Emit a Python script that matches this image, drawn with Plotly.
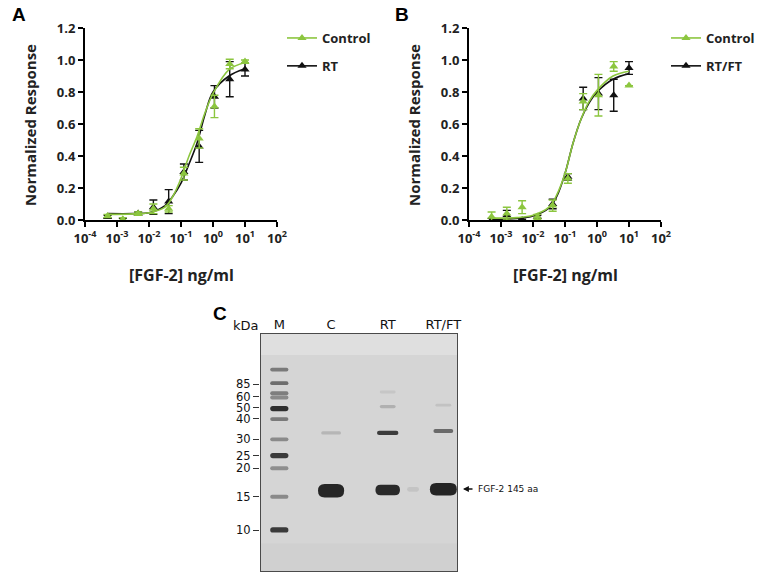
import plotly.graph_objects as go

# FGF-2 concentrations (ng/ml), 3-fold dilution series
conc = [0.000508, 0.00152, 0.00457, 0.0137, 0.0412, 0.123, 0.370, 1.11, 3.33, 10]

# panel A
a_ctrl = [0.025, 0.005, 0.04, 0.07, 0.07, 0.29, 0.51, 0.71, 0.975, 0.99]
a_ctrl_err = [0.01, 0.01, 0.01, 0.03, 0.02, 0.04, 0.06, 0.07, 0.03, 0.01]
a_rt = [0.02, 0.0, 0.04, 0.08, 0.115, 0.30, 0.46, 0.77, 0.88, 0.94]
a_rt_err = [0.01, 0.01, 0.01, 0.045, 0.075, 0.05, 0.10, 0.07, 0.11, 0.04]

# panel B
b_ctrl = [0.02, 0.04, 0.08, 0.02, 0.09, 0.26, 0.74, 0.78, 0.96, 0.84]
b_ctrl_err = [0.03, 0.04, 0.04, 0.015, 0.035, 0.03, 0.05, 0.13, 0.03, 0.0]
b_rtft = [0.0, 0.03, 0.0, 0.02, 0.10, 0.27, 0.76, 0.79, 0.78, 0.95]
b_rtft_err = [0.01, 0.03, 0.005, 0.01, 0.03, 0.02, 0.07, 0.10, 0.10, 0.04]

# fitted curves
fit_x = [0.000508, 0.00316, 0.01, 0.0316, 0.0562, 0.1, 0.178, 0.316, 0.562, 1, 3.16, 10]
a_ctrl_fit = [0.035, 0.038, 0.045, 0.08, 0.15, 0.26, 0.40, 0.52, 0.67, 0.79, 0.94, 0.985]
a_rt_fit = [0.04, 0.04, 0.045, 0.09, 0.15, 0.23, 0.35, 0.48, 0.66, 0.80, 0.90, 0.945]
b_ctrl_fit = [0.012, 0.015, 0.03, 0.08, 0.16, 0.29, 0.48, 0.63, 0.74, 0.81, 0.90, 0.93]
b_rtft_fit = [0.005, 0.01, 0.025, 0.075, 0.15, 0.29, 0.48, 0.63, 0.73, 0.80, 0.88, 0.915]

xtick_vals = [1e-4, 1e-3, 1e-2, 1e-1, 1, 10, 100]
xtick_text = ["10<sup>-4</sup>", "10<sup>-3</sup>", "10<sup>-2</sup>", "10<sup>-1</sup>",
              "10<sup>0</sup>", "10<sup>1</sup>", "10<sup>2</sup>"]

# gel (positions as fraction of gel width / height from top)
lanes = ["M", "C", "RT", "RT/FT"]
lane_x = [0.0975, 0.359, 0.645, 0.926]
ladder_kda = ["85", "60", "50", "40", "30", "25", "20", "15", "10"]
ladder_pos = [0.2146, 0.2665, 0.3126, 0.3598, 0.4448, 0.5134, 0.5661, 0.6849, 0.8243]
ladder_bands = [0.153, 0.210, 0.252, 0.270, 0.316, 0.360, 0.445, 0.513, 0.566, 0.685, 0.824]
ladder_shade = ["#7a7a7a", "#6e6e6e", "#7e7e7e", "#8a8a8a", "#2e2e2e", "#7a7a7a",
                "#8a8a8a", "#3a3a3a", "#8e8e8e", "#8a8a8a", "#3a3a3a"]
# sample bands: lane x, y, half width, half height, shade
band_x = [0.359, 0.359, 0.645, 0.645, 0.645, 0.645, 0.926, 0.926, 0.926, 0.773]
band_y = [0.660, 0.418, 0.657, 0.418, 0.308, 0.247, 0.654, 0.410, 0.302, 0.654]
band_hw = [0.066, 0.05, 0.062, 0.054, 0.04, 0.04, 0.068, 0.05, 0.04, 0.03]
band_hh = [0.028, 0.007, 0.022, 0.009, 0.007, 0.006, 0.026, 0.008, 0.006, 0.01]
band_col = ["#262626", "#b6b6b6", "#2a2a2a", "#3c3c3c", "#b0b0b0", "#c6c6c6",
            "#242424", "#6a6a6a", "#c2c2c2", "#c4c4c4"]

GREEN = "#8cc63f"
BLACK = "#111111"
FONT = "Open Sans"
GEL_ASPECT = 239 / 198

fig = go.Figure()


def add_panel(xa, ya, legend, name1, y1, e1, f1, name2, y2, e2, f2):
    for name, y, e, f, col, rank in [(name2, y2, e2, f2, BLACK, 2), (name1, y1, e1, f1, GREEN, 1)]:
        fig.add_trace(go.Scatter(x=fit_x, y=f, mode="lines", line=dict(color=col, width=1.6, shape="spline"),
                                 xaxis=xa, yaxis=ya, showlegend=False, cliponaxis=False))
        fig.add_trace(go.Scatter(x=conc, y=y, mode="markers",
                                 marker=dict(symbol="triangle-up", size=8, color=col),
                                 error_y=dict(type="data", array=e, color=col, thickness=1.4, width=4),
                                 xaxis=xa, yaxis=ya, showlegend=False, cliponaxis=False))
        fig.add_trace(go.Scatter(x=[None], y=[None], mode="lines+markers", name=name,
                                 line=dict(color=col, width=1.6),
                                 marker=dict(symbol="triangle-up", size=8, color=col),
                                 xaxis=xa, yaxis=ya, legend=legend, legendgroup=name, legendrank=rank))


add_panel("x", "y", "legend", "Control", a_ctrl, a_ctrl_err, a_ctrl_fit, "RT", a_rt, a_rt_err, a_rt_fit)
add_panel("x2", "y2", "legend2", "Control", b_ctrl, b_ctrl_err, b_ctrl_fit, "RT/FT", b_rtft, b_rtft_err, b_rtft_fit)

# invisible trace so the gel axes exist
fig.add_trace(go.Scatter(x=[None], y=[None], xaxis="x3", yaxis="y3", showlegend=False))

xcommon = dict(type="log", range=[-4, 2], tickvals=xtick_vals, ticktext=xtick_text, automargin=False,
               showline=True, linecolor="black", linewidth=2, ticks="outside", ticklen=5,
               tickwidth=2, tickcolor="black", showgrid=False, zeroline=False,
               tickfont=dict(family=FONT, size=13, color="#222", weight="bold"))
ycommon = dict(range=[0, 1.2], dtick=0.2, tickformat=".1f", automargin=False,
               showline=True, linecolor="black", linewidth=2, ticks="outside", ticklen=5,
               tickwidth=2, tickcolor="black", showgrid=False, zeroline=False,
               tickfont=dict(family=FONT, size=13, color="#222", weight="bold"))

legcommon = dict(font=dict(family=FONT, size=13, color="#222", weight="bold"),
                 xanchor="left", yanchor="top", tracegroupgap=8, bgcolor="rgba(0,0,0,0)")

fig.update_layout(
    width=768, height=588, margin=dict(l=0, r=0, t=0, b=0),
    paper_bgcolor="white", plot_bgcolor="white",
    xaxis=dict(domain=[85 / 768, 277 / 768], anchor="y", **xcommon),
    yaxis=dict(domain=[368 / 588, 560 / 588], anchor="x", **ycommon),
    xaxis2=dict(domain=[469 / 768, 661 / 768], anchor="y2", **xcommon),
    yaxis2=dict(domain=[368 / 588, 560 / 588], anchor="x2", **ycommon),
    xaxis3=dict(domain=[260 / 768, 458 / 768], anchor="y3", range=[0, 1], side="top", automargin=False,
                tickvals=lane_x, ticktext=lanes, ticks="", showgrid=False, zeroline=False,
                showline=False, tickfont=dict(family="DejaVu Sans", size=13, color="#111")),
    yaxis3=dict(domain=[16 / 588, 255 / 588], anchor="x3", range=[1, 0], automargin=False,
                tickvals=ladder_pos, ticktext=ladder_kda, ticks="outside", ticklen=6,
                tickcolor="#333", tickwidth=1, showgrid=False, zeroline=False, showline=False,
                tickfont=dict(family="DejaVu Sans", size=11.5, color="#111")),
    legend=dict(x=282 / 768, y=1 - 23 / 588, **legcommon),
    legend2=dict(x=666 / 768, y=1 - 23 / 588, **legcommon),
)

# gel background and bands
shapes = [
    dict(type="rect", xref="x3", yref="y3", x0=0, x1=1, y0=0, y1=1, fillcolor="#d5d5d5",
         line=dict(width=0), layer="below"),
    dict(type="rect", xref="x3", yref="y3", x0=0, x1=1, y0=0, y1=0.092, fillcolor="#dfdfdf",
         line=dict(width=0), layer="below"),
    dict(type="rect", xref="x3", yref="y3", x0=0, x1=1, y0=0.88, y1=1, fillcolor="#d0d0d0",
         line=dict(width=0), layer="below"),
]


def band_path(xc, yc, hw, hh):
    rx = hh * GEL_ASPECT
    x0, x1, y0, y1 = xc - hw, xc + hw, yc - hh, yc + hh
    return (f"M {x0 + rx},{y0} L {x1 - rx},{y0} Q {x1},{y0} {x1},{yc} Q {x1},{y1} {x1 - rx},{y1} "
            f"L {x0 + rx},{y1} Q {x0},{y1} {x0},{yc} Q {x0},{y0} {x0 + rx},{y0} Z")


for yb, col in zip(ladder_bands, ladder_shade):
    hh = 0.011 if col in ("#2e2e2e", "#3a3a3a") else 0.008
    shapes.append(dict(type="path", xref="x3", yref="y3", path=band_path(lane_x[0], yb, 0.046, hh),
                       fillcolor=col, line=dict(width=0)))
for xb, yb, hw, hh, col in zip(band_x, band_y, band_hw, band_hh, band_col):
    shapes.append(dict(type="path", xref="x3", yref="y3", path=band_path(xb, yb, hw, hh),
                       fillcolor=col, line=dict(width=0)))
shapes.append(dict(type="rect", xref="x3", yref="y3", x0=0, x1=1, y0=0, y1=1,
                   line=dict(color="#4a4a4a", width=2)))
fig.update_layout(shapes=shapes)

ann = [
    dict(text="A", x=10 / 768, y=1 - 15 / 588, font=dict(family="Liberation Sans", size=19, color="black", weight="bold")),
    dict(text="B", x=393 / 768, y=1 - 15 / 588, font=dict(family="Liberation Sans", size=19, color="black", weight="bold")),
    dict(text="C", x=211 / 768, y=1 - 313 / 588, font=dict(family="Liberation Sans", size=19, color="black", weight="bold")),
    dict(text="Normalized Response", x=30 / 768, y=1 - 125 / 588, textangle=-90, xanchor="center",
         font=dict(family=FONT, size=15, color="#222", weight="bold")),
    dict(text="Normalized Response", x=414 / 768, y=1 - 125 / 588, textangle=-90, xanchor="center",
         font=dict(family=FONT, size=15, color="#222", weight="bold")),
    dict(text="[FGF-2] ng/ml", x=181 / 768, y=1 - 275 / 588, xanchor="center",
         font=dict(family=FONT, size=16, color="#222", weight="bold")),
    dict(text="[FGF-2] ng/ml", x=565 / 768, y=1 - 275 / 588, xanchor="center",
         font=dict(family=FONT, size=16, color="#222", weight="bold")),
    dict(text="kDa", x=246 / 768, y=1 - 325 / 588, xanchor="center",
         font=dict(family="DejaVu Sans", size=13, color="#111")),
    dict(text="FGF-2 145 aa", x=476 / 768, y=1 - 489 / 588, xanchor="left",
         font=dict(family="DejaVu Sans", size=9, color="#111")),
]
for a in ann:
    a.setdefault("xanchor", "left")
    a.update(xref="paper", yref="paper", showarrow=False, yanchor="middle")
fig.update_layout(annotations=ann)
fig.add_annotation(x=463 / 768, y=1 - 489 / 588, xref="paper", yref="paper", ax=11, ay=0,
                   showarrow=True, arrowhead=2, arrowsize=0.9, arrowwidth=1.3, arrowcolor="#111", text="")

fig.write_html("out.html", config={"displayModeBar": False},
               post_script="document.body.style.margin='0px';")
